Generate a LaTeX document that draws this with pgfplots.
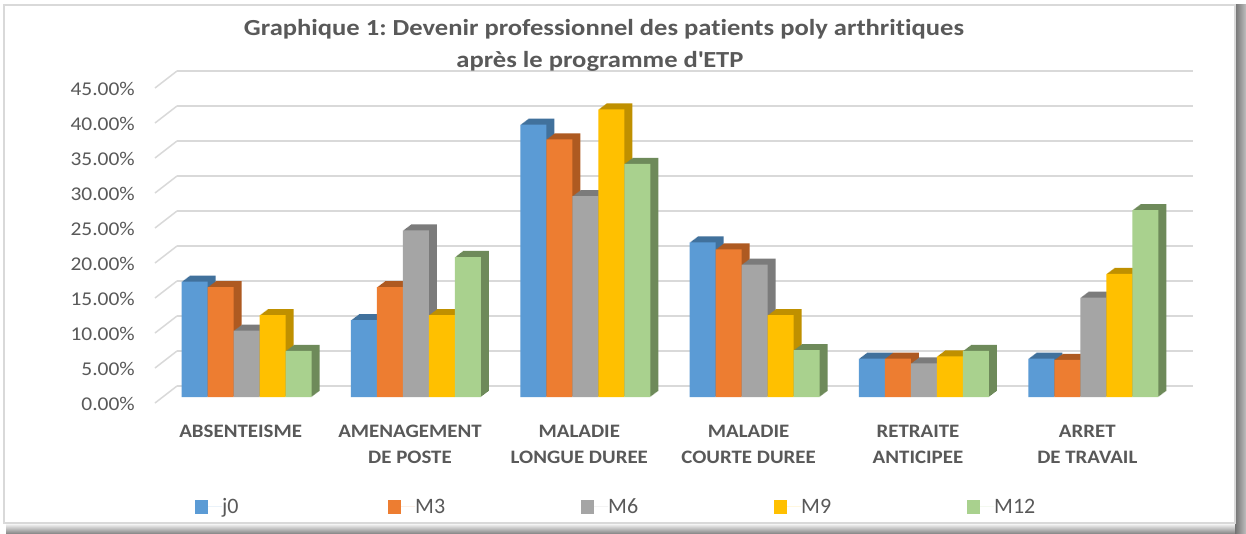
\documentclass[border=0pt]{standalone}
\usepackage{pgfplots}
\pgfplotsset{compat=1.18}
\usepackage{pgfplotstable}
\usepackage{fontspec}
\setmainfont{Carlito}[FakeStretch=1.1, Ligatures={NoCommon}]
\newfontfamily\titlefont{Carlito}[FakeStretch=1.155, Ligatures={NoCommon}]
\newfontfamily\plainfont{Carlito}[Ligatures={NoCommon}]
\frenchspacing

\definecolor{tg}{HTML}{595959}
\definecolor{gridc}{HTML}{D9D9D9}
\definecolor{cA}{HTML}{5B9BD5}\definecolor{dA}{HTML}{41719C}
\definecolor{cB}{HTML}{ED7D31}\definecolor{dB}{HTML}{AE5A21}
\definecolor{cC}{HTML}{A5A5A5}\definecolor{dC}{HTML}{7B7B7B}
\definecolor{cD}{HTML}{FFC000}\definecolor{dD}{HTML}{BF9000}
\definecolor{cE}{HTML}{A9D18E}\definecolor{dE}{HTML}{6E8A5A}

\pgfplotstableread{
x j0 M3 M6 M9 M12
0 16.5 15.7 9.5 11.7 6.6
1 11.0 15.7 23.8 11.7 20.0
2 38.9 36.8 28.7 41.1 33.3
3 22.1 21.1 18.9 11.7 6.7
4 5.5 5.5 4.8 5.8 6.6
5 5.5 5.3 14.2 17.6 26.7
}\data

\newcommand\bars[4]{%
  \pgfplotsinvokeforeach{1,...,8}{%
    \addplot[ybar, bar width=26pt, bar shift={#2pt+##1pt}, yshift={0.75*##1pt}, fill=#4, draw=none, forget plot] table[x=x,y=#1]{\data};
  }%
  \addplot[ybar, bar width=26pt, bar shift=#2pt, fill=#3, draw=none,
    legend image code/.code={\fill[#3] (0pt,-7pt) rectangle (13pt,7pt); \path (0pt,0pt) -- (27pt,0pt);}] table[x=x,y=#1]{\data};
  \addlegendentry{\makebox[166pt][l]{#1}}%
}

\begin{document}
\begin{tikzpicture}[x=1pt,y=1pt]
\useasboundingbox (0,0) rectangle (1246,533);
\fill[white] (0,0) rectangle (1246,533);
% shadow
\shade[top color=white, bottom color=black!45] (6,0) rectangle (1246,10);
\shade[left color=black!55, right color=black!25] (1235,0) rectangle (1246,528);
\fill[white] (4,10) rectangle (1235,528);
\draw[gridc, line width=1.5pt] (4,10) rectangle (1235,528);

\begin{axis}[
  at={(162pt,136pt)}, anchor=south west,
  scale only axis, width=1016pt, height=315pt,
  xmin=-0.5, xmax=5.5, ymin=0, ymax=45,
  clip=false,
  axis line style={draw=none},
  major tick length=0pt,
  xtick={0,...,5},
  xticklabels={ABSENTEISME, {AMENAGEMENT\\DE POSTE}, {MALADIE\\LONGUE DUREE}, {MALADIE\\COURTE DUREE}, {RETRAITE\\ANTICIPEE}, {ARRET\\DE TRAVAIL}},
  xticklabel style={align=center, text=tg, inner sep=0pt, anchor=north, xshift=-6pt, yshift=-28pt,
    font=\bfseries\fontsize{19}{25.7}\selectfont},
  ytick={0,5,...,45},
  yticklabel={\pgfmathprintnumber[fixed,fixed zerofill,precision=2,assume math mode=true]{\tick}\%},
  yticklabel style={text=tg, inner sep=0pt, anchor=east, xshift=-27pt, yshift=-7pt,
    font=\fontsize{19.5}{22}\selectfont},
  ymajorgrids,
  major grid style={draw=gridc, line width=1.5pt, xshift=15pt, yshift=11pt},
  legend columns=5,
  legend cell align=left,
  legend style={at={(0.0325,-0.349)}, anchor=west, draw=none, fill=none, inner sep=0pt,
    column sep=0pt, nodes={inner sep=0pt, text=tg}, font=\plainfont\fontsize{22}{24}\selectfont},
]
\pgfplotsinvokeforeach{0,5,...,45}{
  \draw[gridc, line width=1.5pt] ([shift={(-7pt,-6pt)}]axis cs:-0.5,#1) -- ++(22pt,17pt);
}
\bars{j0}{-52}{cA}{dA}
\bars{M3}{-26}{cB}{dB}
\bars{M6}{0}{cC}{dC}
\bars{M9}{26}{cD}{dD}
\bars{M12}{52}{cE}{dE}
\end{axis}

\node[anchor=base, text=tg, font=\titlefont\bfseries\fontsize{23}{28}\selectfont] at (604,497) {Graphique 1: Devenir professionnel des patients poly arthritiques};
\node[anchor=base, text=tg, font=\titlefont\bfseries\fontsize{23}{28}\selectfont] at (600,465) {après le programme d\textquotesingle ETP};
\end{tikzpicture}
\end{document}
